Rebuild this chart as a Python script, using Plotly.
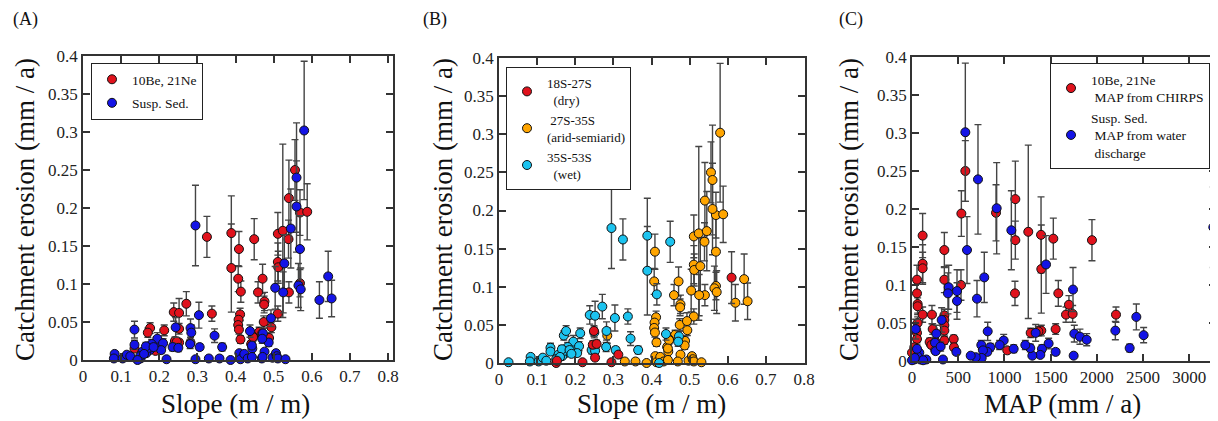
import plotly.graph_objects as go

W, H = 1218, 421     # browser window
OFF = 8              # page body margin offset
FW, FH = W - OFF, H - OFF

# ---------------- Panel A : slope vs erosion, by method ----------------
a_be_slope = [0.325,0.389,0.389,0.409,0.407,0.414,0.412,0.408,0.407,0.409,
              0.413,0.449,0.459,0.471,0.476,0.475,0.474,0.462,0.446,0.494,
              0.488,0.511,0.511,0.512,0.511,0.524,0.539,0.540,0.540,0.556,
              0.569,0.588,0.569,0.176,0.170,0.213,0.190,0.135,0.238,0.252,
              0.271,0.338,0.252,0.241,0.252,0.246,0.282,0.441,0.470,0.446]
a_be_eros = [0.162,0.167,0.121,0.146,0.107,0.090,0.060,0.053,0.046,0.040,
             0.027,0.159,0.089,0.107,0.077,0.073,0.050,0.037,0.031,0.043,
             0.029,0.166,0.129,0.122,0.061,0.170,0.159,0.213,0.089,0.250,
             0.194,0.195,0.101,0.042,0.036,0.039,0.012,0.015,0.063,0.062,
             0.074,0.061,0.041,0.025,0.023,0.024,0.023,0.021,0.035,0.030]
a_be_err = [0.027,0.049,0.058,0.023,0.017,0.014,0.008,0.008,0.007,0.006,
            0.005,0.027,0.014,0.019,0.012,0.011,0.008,0.006,0.005,0.007,
            0.005,0.028,0.025,0.021,0.010,0.114,0.025,0.050,0.014,0.040,
            0.030,0.037,0.018,0.007,0.006,0.007,0.003,0.003,0.012,0.019,
            0.016,0.010,0.007,0.005,0.004,0.005,0.004,0.004,0.006,0.005]

a_ss_slope = [0.295,0.580,0.560,0.560,0.545,0.569,0.528,0.565,0.571,0.525,
              0.504,0.493,0.487,0.472,0.470,0.438,0.444,0.443,0.476,0.620,
              0.643,0.652,0.304,0.345,0.365,0.306,0.282,0.284,0.281,0.243,
              0.235,0.250,0.135,0.135,0.192,0.195,0.210,0.205,0.175,0.166,
              0.156,0.151,0.150,0.083,0.081,0.104,0.115,0.124,0.143,0.219,
              0.295,0.330,0.358,0.387,0.410,0.413,0.423,0.432,0.443,0.469,
              0.471,0.497,0.506,0.508,0.511,0.531,0.180,0.172,0.165,0.185,
              0.160]
a_ss_eros = [0.177,0.302,0.240,0.202,0.173,0.146,0.127,0.098,0.093,0.089,
             0.095,0.055,0.023,0.035,0.028,0.038,0.015,0.019,0.011,0.079,
             0.110,0.081,0.059,0.032,0.017,0.017,0.042,0.036,0.021,0.043,
             0.017,0.016,0.040,0.020,0.023,0.028,0.022,0.013,0.013,0.009,
             0.011,0.002,0.005,0.008,0.002,0.002,0.007,0.005,0.000,0.001,
             0.001,0.002,0.002,0.000,0.009,0.001,0.008,0.002,0.004,0.002,
             0.004,0.003,0.009,0.005,0.002,0.001,0.021,0.016,0.018,0.017,
             0.008]
a_ss_err = [0.053,0.091,0.072,0.060,0.052,0.044,0.038,0.029,0.028,0.027,
            0.028,0.011,0.005,0.007,0.006,0.008,0.003,0.004,0.002,0.024,
            0.033,0.024,0.017,0.009,0.005,0.004,0.012,0.010,0.006,0.013,
            0.005,0.005,0.011,0.006,0.007,0.008,0.006,0.004,0.004,0.003,
            0.003,0.001,0.002,0.002,0.001,0.001,0.002,0.002,0.001,0.000,
            0.000,0.000,0.000,0.000,0.002,0.000,0.002,0.000,0.001,0.000,
            0.001,0.000,0.002,0.001,0.000,0.000,0.006,0.005,0.005,0.005,
            0.002]

# ---------------- Panel B : slope vs erosion, by latitude ----------------
b_dry_slope = [0.150,0.152,0.219,0.249,0.246,0.256,0.252,0.295,0.313,0.610]
b_dry_eros = [0.000,0.003,0.001,0.042,0.024,0.025,0.007,0.001,0.011,0.112]
b_dry_err = [0.000,0.001,0.000,0.007,0.005,0.005,0.002,0.000,0.003,0.034]

b_arid_slope = [0.409,0.407,0.412,0.408,0.407,0.409,0.413,0.459,0.471,0.476,
                0.475,0.474,0.462,0.446,0.494,0.488,0.511,0.511,0.512,0.511,
                0.524,0.539,0.540,0.540,0.556,0.569,0.588,0.569,0.441,0.446,
                0.580,0.560,0.560,0.545,0.569,0.528,0.565,0.571,0.525,0.504,
                0.493,0.487,0.444,0.443,0.476,0.620,0.643,0.652,0.284,0.330,
                0.358,0.387,0.410,0.413,0.423,0.432,0.443,0.469,0.497,0.506,
                0.508,0.511,0.531]
b_arid_eros = [0.146,0.107,0.060,0.053,0.046,0.040,0.027,0.089,0.107,0.077,
               0.073,0.050,0.037,0.031,0.043,0.029,0.166,0.129,0.122,0.061,
               0.170,0.159,0.213,0.089,0.250,0.194,0.195,0.101,0.021,0.030,
               0.302,0.240,0.202,0.173,0.146,0.127,0.098,0.093,0.089,0.095,
               0.055,0.023,0.015,0.019,0.011,0.079,0.110,0.081,0.036,0.002,
               0.002,0.000,0.009,0.001,0.008,0.002,0.004,0.002,0.003,0.009,
               0.005,0.002,0.001]
b_arid_err = [0.023,0.017,0.008,0.008,0.007,0.006,0.005,0.014,0.019,0.012,
              0.011,0.008,0.006,0.005,0.007,0.005,0.028,0.025,0.021,0.010,
              0.114,0.025,0.050,0.014,0.040,0.030,0.037,0.018,0.004,0.005,
              0.091,0.072,0.060,0.052,0.044,0.038,0.029,0.028,0.027,0.028,
              0.011,0.005,0.003,0.004,0.002,0.024,0.033,0.024,0.010,0.000,
              0.000,0.000,0.002,0.000,0.002,0.000,0.001,0.000,0.000,0.002,
              0.001,0.000,0.000]

b_wet_slope = [0.025,0.295,0.325,0.389,0.389,0.414,0.449,0.271,0.238,0.252,
               0.304,0.338,0.345,0.365,0.282,0.281,0.306,0.243,0.252,0.250,
               0.170,0.176,0.213,0.135,0.135,0.192,0.195,0.210,0.205,0.175,
               0.166,0.156,0.150,0.083,0.081,0.104,0.115,0.124,0.180,0.172,
               0.165,0.185,0.160,0.190,0.420,0.438,0.472,0.470]
b_wet_eros = [0.001,0.177,0.162,0.167,0.121,0.090,0.159,0.074,0.063,0.062,
              0.059,0.061,0.032,0.017,0.042,0.021,0.017,0.017,0.016,0.040,
              0.036,0.042,0.039,0.020,0.015,0.023,0.028,0.022,0.013,0.013,
              0.009,0.011,0.005,0.008,0.002,0.002,0.007,0.003,0.021,0.016,
              0.018,0.017,0.008,0.012,0.000,0.038,0.035,0.028]
b_wet_err = [0.000,0.053,0.027,0.049,0.058,0.014,0.027,0.016,0.012,0.019,
             0.017,0.010,0.009,0.005,0.012,0.006,0.004,0.005,0.005,0.007,
             0.006,0.007,0.007,0.006,0.003,0.007,0.008,0.006,0.004,0.004,
             0.003,0.003,0.002,0.002,0.001,0.001,0.002,0.001,0.006,0.005,
             0.005,0.005,0.002,0.003,0.000,0.008,0.007,0.006]

# ---------------- Panel C : MAP vs erosion ----------------
c_be_map = [577,534,530,909,1118,1118,1114,1258,1396,1399,
            1529,1583,1698,1666,1738,1947,2207,1554,1399,1367,
            1284,1031,115,115,115,115,54,54,61,61,
            61,54,54,25,0,350,350,350,350,350,
            350,350,216,224,191,210,451,454,252,255]
c_be_eros = [0.250,0.194,0.100,0.195,0.213,0.159,0.089,0.170,0.166,0.121,
             0.161,0.089,0.074,0.061,0.062,0.159,0.061,0.042,0.040,0.039,
             0.037,0.014,0.165,0.128,0.122,0.061,0.107,0.089,0.075,0.072,
             0.050,0.037,0.029,0.018,0.011,0.146,0.107,0.060,0.054,0.047,
             0.040,0.027,0.061,0.042,0.025,0.021,0.029,0.018,0.014,0.025]
c_be_err = [0.040,0.030,0.020,0.037,0.050,0.025,0.016,0.114,0.050,0.058,
            0.027,0.017,0.012,0.010,0.011,0.027,0.010,0.007,0.007,0.006,
            0.006,0.003,0.029,0.025,0.021,0.010,0.019,0.014,0.012,0.011,
            0.008,0.006,0.005,0.004,0.003,0.023,0.017,0.008,0.008,0.007,
            0.006,0.005,0.012,0.007,0.005,0.004,0.005,0.004,0.003,0.005]

c_ss_map = [577,714,595,916,1075,1450,782,703,487,487,
            397,389,321,263,249,256,310,335,40,819,
            1742,1756,1817,1890,2200,2427,2506,2355,1749,3260,
            1338,1478,1554,1406,1388,1302,1280,1226,1100,992,
            948,847,815,750,768,754,689,635,480,155,
            90,79,61,25,0,54,120,30]
c_ss_eros = [0.301,0.239,0.146,0.201,0.172,0.127,0.110,0.082,0.092,0.079,
             0.097,0.089,0.054,0.036,0.024,0.013,0.019,0.002,0.042,0.039,
             0.094,0.036,0.032,0.028,0.040,0.058,0.034,0.017,0.007,0.176,
             0.037,0.023,0.012,0.016,0.008,0.007,0.017,0.021,0.016,0.027,
             0.021,0.018,0.012,0.021,0.014,0.004,0.005,0.007,0.012,0.002,
             0.002,0.011,0.006,0.002,0.001,0.016,0.001,0.004]
c_ss_err = [0.091,0.072,0.044,0.060,0.052,0.038,0.033,0.024,0.028,0.024,
            0.029,0.027,0.016,0.011,0.007,0.004,0.006,0.001,0.013,0.012,
            0.029,0.011,0.010,0.008,0.012,0.017,0.010,0.005,0.002,0.053,
            0.011,0.007,0.004,0.005,0.002,0.002,0.005,0.006,0.005,0.008,
            0.006,0.005,0.004,0.006,0.004,0.001,0.002,0.002,0.004,0.001,
            0.001,0.003,0.002,0.001,0.000,0.005,0.000,0.001]

RED = "#e0121c"
BLUE = "#1414e6"
ORANGE = "#ffa500"
CYAN = "#1cc3ef"
FONT = "Liberation Serif"

fig = go.Figure()


def add(x, y, e, color, name, xa, ya, legend, rank):
    fig.add_trace(go.Scatter(
        x=x, y=y, mode="markers", name=name,
        xaxis=xa, yaxis=ya, legend=legend, legendrank=rank,
        legendgroup=name, cliponaxis=False,
        marker=dict(size=9, color=color, line=dict(color="#111", width=1)),
        error_y=dict(type="data", array=e, visible=True, color="#444444",
                     thickness=1.4, width=3.5),
    ))


nb = "\u00a0"
add(a_be_slope, a_be_eros, a_be_err, RED, "10Be, 21Ne", "x", "y", "legend", 1)
add(a_ss_slope, a_ss_eros, a_ss_err, BLUE, "Susp. Sed.", "x", "y", "legend", 2)

add(b_arid_slope, b_arid_eros, b_arid_err, ORANGE,
    nb + "27S-35S<br>(arid-semiarid)", "x2", "y2", "legend2", 2)
add(b_wet_slope, b_wet_eros, b_wet_err, CYAN,
    "35S-53S<br>" + nb * 2 + "(wet)", "x2", "y2", "legend2", 3)
add(b_dry_slope, b_dry_eros, b_dry_err, RED,
    "18S-27S<br>" + nb * 2 + "(dry)", "x2", "y2", "legend2", 1)

add(c_be_map, c_be_eros, c_be_err, RED,
    "10Be, 21Ne<br>" + nb + "MAP from CHIRPS", "x3", "y3", "legend3", 1)
add(c_ss_map, c_ss_eros, c_ss_err, BLUE,
    "Susp. Sed.<br>" + nb + "MAP from water<br>" + nb + "discharge",
    "x3", "y3", "legend3", 2)


def px_x(p):
    return (p - OFF) / FW


def px_y(p):
    return 1 - (p - OFF) / FH


axis_common = dict(showline=True, linecolor="#333", linewidth=1.5,
                   mirror="ticks", ticks="inside", ticklen=7, tickwidth=1.5,
                   tickcolor="#333", showgrid=False, zeroline=False,
                   automargin=False,
                   tickfont=dict(family=FONT, size=17, color="#222"))

panels = [
    ("xaxis", "yaxis", (83, 393), (56, 360), [0, 0.813], 0.1),
    ("xaxis2", "yaxis2", (499, 805), (58, 363), [0, 0.8026], 0.1),
    ("xaxis3", "yaxis3", (912, 1216), (57, 361), [0, 3289], 500),
]
layout = {}
for i, (xn, yn, (x0, x1), (yt, yb), xr, dt) in enumerate(panels):
    anchor_y = "y" if i == 0 else "y%d" % (i + 1)
    anchor_x = "x" if i == 0 else "x%d" % (i + 1)
    layout[xn] = dict(axis_common, domain=[px_x(x0), min(px_x(x1), 1)], range=xr,
                      tick0=0, dtick=dt, anchor=anchor_y)
    layout[yn] = dict(axis_common, domain=[px_y(yb), px_y(yt)], range=[0, 0.4],
                      tick0=0, dtick=0.05, anchor=anchor_x)

fig.update_layout(**layout)

legend_common = dict(bordercolor="#222", borderwidth=1, bgcolor="white",
                     font=dict(family=FONT, size=13.5, color="#111"),
                     itemwidth=30, xanchor="left", yanchor="top",
                     traceorder="grouped", tracegroupgap=3, itemclick=False)
fig.update_layout(
    width=FW, height=FH,
    margin=dict(l=0, r=0, t=0, b=0, pad=0, autoexpand=False),
    paper_bgcolor="white", plot_bgcolor="white", showlegend=True,
    legend=dict(legend_common, x=px_x(91), y=px_y(63)),
    legend2=dict(legend_common, x=px_x(506), y=px_y(67), tracegroupgap=0,
                 font=dict(family=FONT, size=13, color="#111")),
    legend3=dict(legend_common, x=px_x(1210), y=px_y(63), xanchor="right",
                 tracegroupgap=0),
)

annots = []
title_font = dict(family=FONT, size=27, color="#111")
for cx in (25, 443, 849):
    annots.append(dict(text="Catchment erosion (mm / a)", x=px_x(cx), y=px_y(210),
                       xref="paper", yref="paper", textangle=-90, showarrow=False,
                       font=title_font, xanchor="center", yanchor="middle"))
for cx, t in ((235, "Slope (m / m)"), (651, "Slope (m / m)"), (1062, "MAP (mm / a)")):
    annots.append(dict(text=t, x=px_x(cx), y=px_y(404), xref="paper", yref="paper",
                       showarrow=False, font=title_font,
                       xanchor="center", yanchor="middle"))
for cx, t in ((25, "(A)"), (435, "(B)"), (851, "(C)")):
    annots.append(dict(text=t, x=px_x(cx), y=px_y(20), xref="paper", yref="paper",
                       showarrow=False, font=dict(family=FONT, size=18, color="#111"),
                       xanchor="center", yanchor="middle"))
fig.update_layout(annotations=annots)

fig.write_html("out.html")
